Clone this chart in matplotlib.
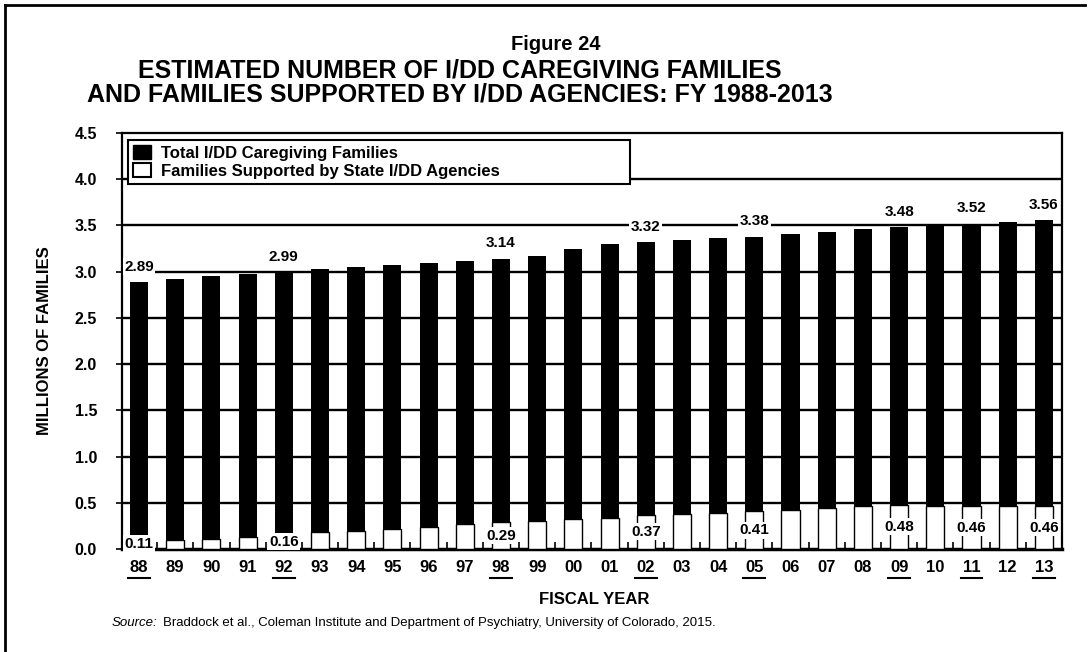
import matplotlib
matplotlib.use("Agg")
import matplotlib.pyplot as plt
from matplotlib.patches import Patch
from matplotlib.lines import Line2D

plt.rcParams["font.family"] = ["Liberation Sans", "DejaVu Sans"]
plt.rcParams["font.weight"] = "bold"

# Data (millions of families), fiscal years 1988-2013
years = ["88", "89", "90", "91", "92", "93", "94", "95", "96", "97", "98", "99", "00",
         "01", "02", "03", "04", "05", "06", "07", "08", "09", "10", "11", "12", "13"]
total_families = [2.89, 2.92, 2.95, 2.98, 2.99, 3.03, 3.05, 3.07, 3.09, 3.12, 3.14, 3.17, 3.24,
                  3.30, 3.32, 3.34, 3.36, 3.38, 3.41, 3.43, 3.46, 3.48, 3.50, 3.52, 3.54, 3.56]
supported = [0.11, 0.10, 0.11, 0.13, 0.16, 0.18, 0.20, 0.22, 0.24, 0.27, 0.29, 0.30, 0.32,
             0.34, 0.37, 0.38, 0.39, 0.41, 0.42, 0.44, 0.46, 0.48, 0.47, 0.46, 0.46, 0.46]
labeled_years = ["88", "92", "98", "02", "05", "09", "11", "13"]
y_ticks = [0.0, 0.5, 1.0, 1.5, 2.0, 2.5, 3.0, 3.5, 4.0, 4.5]

W, H = 1090, 652
fig = plt.figure(figsize=(W / 100, H / 100), dpi=100)
ax = fig.add_axes([122 / W, 1 - 549 / H, (1062 - 122) / W, (549 - 133) / H])

x = list(range(len(years)))

# gridlines behind bars
for v in y_ticks[1:-1]:
    ax.axhline(v, color="black", lw=1.7, zorder=0)

ax.bar(x, total_families, width=0.5, color="black", zorder=2)
ax.bar(x, supported, width=0.5, color="white", edgecolor="black", lw=1.0, zorder=3)

for i, yr in enumerate(years):
    if yr in labeled_years:
        ax.annotate(f"{total_families[i]:.2f}", (i, total_families[i]), xytext=(0, 11),
                    textcoords="offset points", ha="center", va="center", fontsize=11,
                    fontweight="bold", zorder=6,
                    bbox=dict(boxstyle="square,pad=0.1", fc="white", ec="none"))
        ax.text(i, max(supported[i] / 2, 0.05), f"{supported[i]:.2f}", ha="center", va="center",
                fontsize=11, fontweight="bold", zorder=6,
                bbox=dict(boxstyle="square,pad=0.1", fc="white", ec="none"))

ax.set_xlim(-0.47, 25.5)
ax.set_ylim(0, 4.5)
ax.set_yticks(y_ticks)
ax.set_yticklabels([f"{v:.1f}" for v in y_ticks], fontsize=11.5, fontweight="bold")
ax.tick_params(axis="y", direction="inout", length=8, width=1.2, pad=14)

ax.set_xticks([i + 0.5 for i in x[:-1]])
ax.set_xticklabels([])
ax.tick_params(axis="x", direction="in", length=5, width=1.2)
for i, yr in enumerate(years):
    ax.text(i, -0.2, yr, ha="center", va="center", fontsize=12, fontweight="bold",
            transform=ax.transData, clip_on=False)
    if yr in labeled_years:
        ax.plot([i - 0.3, i + 0.3], [-0.31, -0.31], color="black", lw=1.5, clip_on=False)

for s in ["left", "right", "top"]:
    ax.spines[s].set_linewidth(1.6)
ax.spines["bottom"].set_linewidth(2.5)

ax.set_ylabel("MILLIONS OF FAMILIES", fontsize=12, fontweight="bold", labelpad=16)
fig.text(0.545, 1 - 600 / H, "FISCAL YEAR", ha="center", va="center", fontsize=12,
         fontweight="bold")

handles = [Patch(facecolor="black", edgecolor="black", label="Total I/DD Caregiving Families"),
           Patch(facecolor="white", edgecolor="black", lw=1.5,
                 label="Families Supported by State I/DD Agencies")]
leg = ax.legend(handles=handles, loc="upper left", bbox_to_anchor=(0.006, 0.861, 0.534, 0.122),
                mode="expand", borderaxespad=0, fancybox=False, framealpha=1,
                prop={"size": 12, "weight": "bold"}, handlelength=1.1, handleheight=0.9,
                labelspacing=0.15, borderpad=0.3, handletextpad=0.6)
leg.get_frame().set_edgecolor("black")
leg.get_frame().set_linewidth(1.5)
leg.set_zorder(7)

fig.text(556 / W, 1 - 44 / H, "Figure 24", ha="center", va="center", fontsize=14.5,
         fontweight="bold")
fig.text(460 / W, 1 - 70 / H, "ESTIMATED NUMBER OF I/DD CAREGIVING FAMILIES", ha="center",
         va="center", fontsize=18, fontweight="bold")
fig.text(460 / W, 1 - 95 / H, "AND FAMILIES SUPPORTED BY I/DD AGENCIES: FY 1988-2013", ha="center",
         va="center", fontsize=18, fontweight="bold")

fig.text(112 / W, 1 - 623 / H, "Source:", fontsize=9.5, style="italic", fontweight="normal",
         va="center")
fig.text(163 / W, 1 - 623 / H,
         "Braddock et al., Coleman Institute and Department of Psychiatry, University of Colorado, 2015.",
         fontsize=9.5, fontweight="normal", va="center")

# outer frame (left and top edges)
fig.add_artist(Line2D([5 / W, 5 / W], [0, 1 - 5 / H], color="black", lw=2, transform=fig.transFigure))
fig.add_artist(Line2D([5 / W, 1085 / W], [1 - 5 / H, 1 - 5 / H], color="black", lw=2,
                      transform=fig.transFigure))

fig.savefig("out.png", dpi=100)
